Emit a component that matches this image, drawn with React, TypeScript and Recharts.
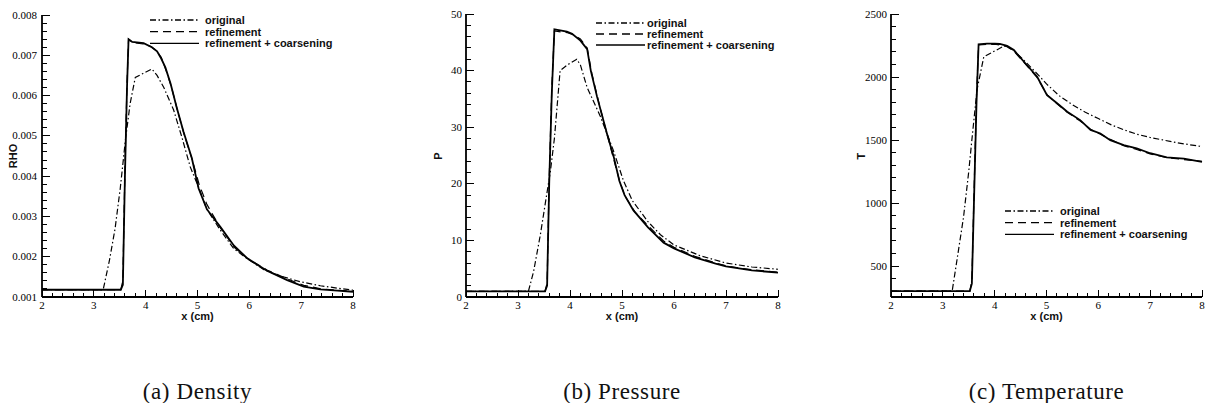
import React from "react";
import { LineChart, Line, XAxis, YAxis, Legend } from "recharts";

// --- values (x in cm) ---
const rhoOrigX = [2, 3.18, 3.3, 3.41, 3.51, 3.61, 3.7, 3.8, 3.95, 4.12, 4.22, 4.35, 4.54, 4.7, 4.86, 5.02, 5.18, 5.44, 5.7, 5.96, 6.28, 6.6, 6.98, 7.37, 7.7, 8];
const rhoOrigY = [0.00118, 0.00118, 0.0019, 0.0027, 0.0037, 0.0049, 0.0058, 0.00645, 0.00655, 0.00666, 0.0065, 0.0062, 0.00564, 0.00496, 0.00423, 0.00373, 0.00318, 0.00266, 0.0022, 0.00195, 0.00168, 0.00152, 0.00138, 0.00128, 0.00122, 0.00117];
const rhoRefX = [2, 3.52, 3.56, 3.6, 3.64, 3.67, 3.75, 3.95, 4.1, 4.2, 4.3, 4.4, 4.5, 4.62, 4.75, 4.9, 5.03, 5.18, 5.44, 5.72, 5.96, 6.34, 6.73, 7.05, 7.4, 7.7, 8];
const rhoRefY = [0.00118, 0.00118, 0.0014, 0.0042, 0.0063, 0.0074, 0.00732, 0.00728, 0.00722, 0.00712, 0.00695, 0.0066, 0.0062, 0.0056, 0.005, 0.0044, 0.0038, 0.0033, 0.00272, 0.00222, 0.00196, 0.00167, 0.00145, 0.00129, 0.0012, 0.00117, 0.00114];
const rhoCoarX = [2, 3.52, 3.56, 3.6, 3.64, 3.67, 3.74, 3.96, 4.12, 4.22, 4.3, 4.38, 4.48, 4.6, 4.73, 4.89, 5.02, 5.18, 5.44, 5.7, 5.96, 6.34, 6.73, 7.05, 7.37, 7.7, 8];
const rhoCoarY = [0.00118, 0.00118, 0.0013, 0.004, 0.0062, 0.0074, 0.00733, 0.0073, 0.0072, 0.0071, 0.00692, 0.0067, 0.0063, 0.0057, 0.0051, 0.00445, 0.0037, 0.00318, 0.00274, 0.00228, 0.00196, 0.00165, 0.00142, 0.00126, 0.00119, 0.00116, 0.00113];

const pOrigX = [2, 3.2, 3.3, 3.43, 3.55, 3.62, 3.7, 3.81, 3.95, 4.13, 4.2, 4.33, 4.58, 4.83, 5.03, 5.2, 5.5, 5.74, 6, 6.5, 7, 7.5, 8];
const pOrigY = [1, 1, 4.5, 11, 18, 22, 28, 40, 41, 42, 41, 37, 32, 26, 20.5, 17, 13.3, 11, 9.2, 7.3, 6, 5.3, 4.9];
const pRefX = [2, 3.52, 3.56, 3.6, 3.65, 3.7, 3.95, 4.05, 4.2, 4.33, 4.42, 4.55, 4.72, 4.85, 4.96, 5.06, 5.25, 5.5, 5.8, 6, 6.4, 6.8, 7, 7.5, 8];
const pRefY = [1, 1, 2.5, 21, 37, 47, 46.7, 46.4, 45.6, 44, 39.5, 34.5, 28.5, 24, 20.3, 17.8, 15, 12.6, 9.9, 8.8, 7.2, 6, 5.5, 4.8, 4.4];
const pCoarX = [2, 3.52, 3.56, 3.6, 3.65, 3.7, 3.94, 4.04, 4.2, 4.33, 4.4, 4.52, 4.71, 4.84, 4.95, 5.05, 5.22, 5.5, 5.8, 6, 6.4, 6.8, 7, 7.5, 8];
const pCoarY = [1, 1, 2, 20, 36, 47.3, 46.9, 46.5, 45.3, 43.8, 40, 35.4, 28.9, 24.8, 20.5, 18, 15.3, 12.3, 9.6, 8.6, 7, 5.9, 5.4, 4.7, 4.3];

const tOrigX = [2, 3.18, 3.3, 3.4, 3.5, 3.56, 3.66, 3.79, 4.04, 4.2, 4.37, 4.62, 4.88, 5, 5.25, 5.5, 5.75, 6, 6.25, 6.5, 6.75, 7, 7.25, 7.5, 7.75, 8];
const tOrigY = [300, 300, 620, 890, 1250, 1500, 1900, 2160, 2215, 2250, 2210, 2110, 2000, 1945, 1850, 1780, 1720, 1670, 1620, 1580, 1545, 1520, 1500, 1480, 1463, 1448];
const tRefX = [2, 3.52, 3.56, 3.6, 3.65, 3.69, 3.85, 4, 4.1, 4.24, 4.37, 4.62, 4.82, 5.01, 5.21, 5.4, 5.65, 5.85, 6.04, 6.23, 6.49, 6.74, 7, 7.32, 7.65, 8];
const tRefY = [300, 300, 380, 1050, 1850, 2255, 2258, 2260, 2255, 2240, 2205, 2090, 1995, 1860, 1785, 1720, 1650, 1585, 1545, 1505, 1455, 1425, 1390, 1360, 1345, 1330];
const tCoarX = [2, 3.52, 3.56, 3.6, 3.65, 3.69, 3.85, 4, 4.1, 4.24, 4.37, 4.62, 4.82, 5.01, 5.21, 5.4, 5.65, 5.85, 6.04, 6.23, 6.49, 6.74, 7, 7.32, 7.65, 8];
const tCoarY = [300, 300, 360, 1000, 1800, 2260, 2265, 2265, 2262, 2248, 2214, 2095, 2002, 1856, 1790, 1724, 1658, 1580, 1552, 1499, 1459, 1433, 1395, 1362, 1352, 1326];

const seriesNames = ["original", "refinement", "refinement + coarsening"];
const captions = ["(a) Density", "(b) Pressure", "(c) Temperature"];
const yTitles = ["RHO", "P", "T"];
const xTitle = "x (cm)";

const xDomain: [number, number] = [2, 8];
const rhoDomain: [number, number] = [0.001, 0.008];
const pDomain: [number, number] = [0, 50];
const tDomain: [number, number] = [254, 2500];

const seriesStyle = [
  { dash: "6 2.5 1.5 2.5", width: 1.2 },
  { dash: "8 5", width: 1.2 },
  { dash: undefined, width: 1.8 },
];

const zip = (xs: number[], ys: number[]) => xs.map((x, i) => ({ x, y: ys[i] }));

function ticksBetween(lo: number, hi: number, step: number) {
  const out: number[] = [];
  const k0 = Math.ceil(lo / step - 1e-9);
  const k1 = Math.floor(hi / step + 1e-9);
  for (let k = k0; k <= k1; k++) out.push(k * step);
  return out;
}
const isMajor = (v: number, step: number) => Math.abs(v / step - Math.round(v / step)) < 1e-6;
// snap a coordinate to a pixel centre so 1px tick marks stay crisp
const snap = (v: number) => Math.round(v - 0.5) + 0.5;

const SERIF = "Liberation Serif";
const SANS = "Liberation Sans";
const Y_AXIS_W = 42;
const X_AXIS_H = 30;

// inward tick marks, long at labelled values
function makeXTick() {
  return (p: any) => {
    const major = isMajor(p.payload.value, 1);
    const x = snap(p.x);
    return (
      <g>
        <line x1={x} x2={x} y1={p.y} y2={p.y - (major ? 7 : 4.5)} stroke="#000" strokeWidth={1.2} shapeRendering="crispEdges" />
        {major && (
          <text x={p.x} y={p.y + 12} textAnchor="middle" fill="#000" fontSize={11} fontFamily={SERIF}>
            {Math.round(p.payload.value)}
          </text>
        )}
      </g>
    );
  };
}
function makeYTick(majorStep: number, fmt: (v: number) => string, gap: number) {
  return (p: any) => {
    const major = isMajor(p.payload.value, majorStep);
    const y = snap(p.y);
    return (
      <g>
        <line x1={p.x} x2={p.x + (major ? 7.5 : 4.5)} y1={y} y2={y} stroke="#000" strokeWidth={1.2} shapeRendering="crispEdges" />
        {major && (
          <text x={p.x - gap} y={p.y + 3.5} textAnchor="end" fill="#000" fontSize={11} fontFamily={SERIF}>
            {fmt(p.payload.value)}
          </text>
        )}
      </g>
    );
  };
}

type PanelCfg = {
  plot: { left: number; top: number; right: number; bottom: number };
  yDomain: [number, number];
  yMajor: number;
  yMinor: number;
  yFmt: (v: number) => string;
  yTitle: string;
  yTitleX: number;
  yLabelGap: number;
  data: { x: number; y: number }[][];
  legend: { x: number; y: number; gap: number; rowH: number };
  caption: string;
};

const titleStyle: React.CSSProperties = {
  position: "absolute",
  fontFamily: SANS,
  fontWeight: "bold",
  fontSize: 11,
  color: "#111",
  lineHeight: "12px",
  whiteSpace: "nowrap",
};

function Panel({ cfg }: { cfg: PanelCfg }) {
  const { plot } = cfg;
  const chartLeft = plot.left - Y_AXIS_W;
  const width = plot.right - plot.left + Y_AXIS_W + 3;
  const height = plot.bottom + X_AXIS_H;
  const midX = (plot.left + plot.right) / 2;
  const midY = (plot.top + plot.bottom) / 2;
  const xTick = makeXTick();
  const yTick = makeYTick(cfg.yMajor, cfg.yFmt, cfg.yLabelGap);

  const legendContent = () => (
    <svg width={200} height={36}>
      {seriesNames.map((name, i) => {
        const cy = 6 + i * cfg.legend.rowH;
        return (
          <g key={name}>
            <line x1={0} x2={49} y1={cy} y2={cy} stroke="#000" strokeWidth={1.3} strokeDasharray={seriesStyle[i].dash} />
            <text x={49 + cfg.legend.gap} y={cy + 4} fontFamily={SANS} fontWeight="bold" fontSize={11} fill="#111">
              {name}
            </text>
          </g>
        );
      })}
    </svg>
  );

  return (
    <>
      <div style={{ position: "absolute", left: chartLeft, top: 0 }}>
        <LineChart width={width} height={height} margin={{ top: plot.top, right: 3, bottom: 0, left: 0 }}>
          <XAxis
            type="number"
            dataKey="x"
            domain={xDomain}
            ticks={ticksBetween(xDomain[0], xDomain[1], 0.2)}
            interval={0}
            tickSize={0}
            tickMargin={0}
            tickLine={false}
            height={X_AXIS_H}
            axisLine={{ stroke: "#000", strokeWidth: 1.8 }}
            tick={xTick}
          />
          <YAxis
            type="number"
            domain={cfg.yDomain}
            ticks={ticksBetween(cfg.yDomain[0], cfg.yDomain[1], cfg.yMinor)}
            interval={0}
            width={Y_AXIS_W}
            tickSize={0}
            tickMargin={0}
            tickLine={false}
            axisLine={{ stroke: "#000", strokeWidth: 1.8 }}
            tick={yTick}
          />
          <Legend
            layout="vertical"
            align="center"
            verticalAlign="middle"
            content={legendContent}
            wrapperStyle={{ left: cfg.legend.x - chartLeft, top: cfg.legend.y - 6, width: 200, height: 36 }}
          />
          {cfg.data.map((pts, i) => (
            <Line
              key={seriesNames[i]}
              name={seriesNames[i]}
              data={pts}
              dataKey="y"
              type="linear"
              stroke="#000"
              strokeWidth={seriesStyle[i].width}
              strokeDasharray={seriesStyle[i].dash}
              dot={false}
              activeDot={false}
              isAnimationActive={false}
            />
          ))}
        </LineChart>
      </div>
      <div style={{ ...titleStyle, left: midX - 40, top: 310, width: 80, textAlign: "center" }}>{xTitle}</div>
      <div
        style={{
          ...titleStyle,
          left: cfg.yTitleX - 30,
          top: midY - 6,
          width: 60,
          textAlign: "center",
          transform: "rotate(-90deg)",
        }}
      >
        {cfg.yTitle}
      </div>
      <div
        style={{
          position: "absolute",
          left: midX - 150,
          top: 382,
          width: 300,
          textAlign: "center",
          fontFamily: SERIF,
          fontSize: 23,
          letterSpacing: 0.6,
          color: "#111",
          lineHeight: "20px",
          whiteSpace: "nowrap",
        }}
      >
        {cfg.caption}
      </div>
    </>
  );
}

const panels: PanelCfg[] = [
  {
    plot: { left: 42, top: 15, right: 353, bottom: 297 },
    yDomain: rhoDomain,
    yMajor: 0.001,
    yMinor: 0.0002,
    yFmt: (v) => v.toFixed(3),
    yTitle: yTitles[0],
    yTitleX: 13,
    yLabelGap: 5,
    data: [zip(rhoOrigX, rhoOrigY), zip(rhoRefX, rhoRefY), zip(rhoCoarX, rhoCoarY)],
    legend: { x: 150, y: 20, gap: 6, rowH: 11.7 },
    caption: captions[0],
  },
  {
    plot: { left: 466, top: 14, right: 778, bottom: 297 },
    yDomain: pDomain,
    yMajor: 10,
    yMinor: 2,
    yFmt: (v) => String(Math.round(v)),
    yTitle: yTitles[1],
    yTitleX: 438,
    yLabelGap: 4,
    data: [zip(pOrigX, pOrigY), zip(pRefX, pRefY), zip(pCoarX, pCoarY)],
    legend: { x: 596, y: 22.5, gap: 2, rowH: 11 },
    caption: captions[1],
  },
  {
    plot: { left: 891, top: 14, right: 1202, bottom: 297 },
    yDomain: tDomain,
    yMajor: 500,
    yMinor: 100,
    yFmt: (v) => String(Math.round(v)),
    yTitle: yTitles[2],
    yTitleX: 861,
    yLabelGap: 4,
    data: [zip(tOrigX, tOrigY), zip(tRefX, tRefY), zip(tCoarX, tCoarY)],
    legend: { x: 1005, y: 211, gap: 6, rowH: 11.7 },
    caption: captions[2],
  },
];

export default function App() {
  return (
    <div style={{ position: "absolute", left: 0, top: 0, width: 1205, height: 403, background: "#fff", overflow: "hidden" }}>
      {panels.map((cfg) => (
        <Panel key={cfg.caption} cfg={cfg} />
      ))}
    </div>
  );
}
